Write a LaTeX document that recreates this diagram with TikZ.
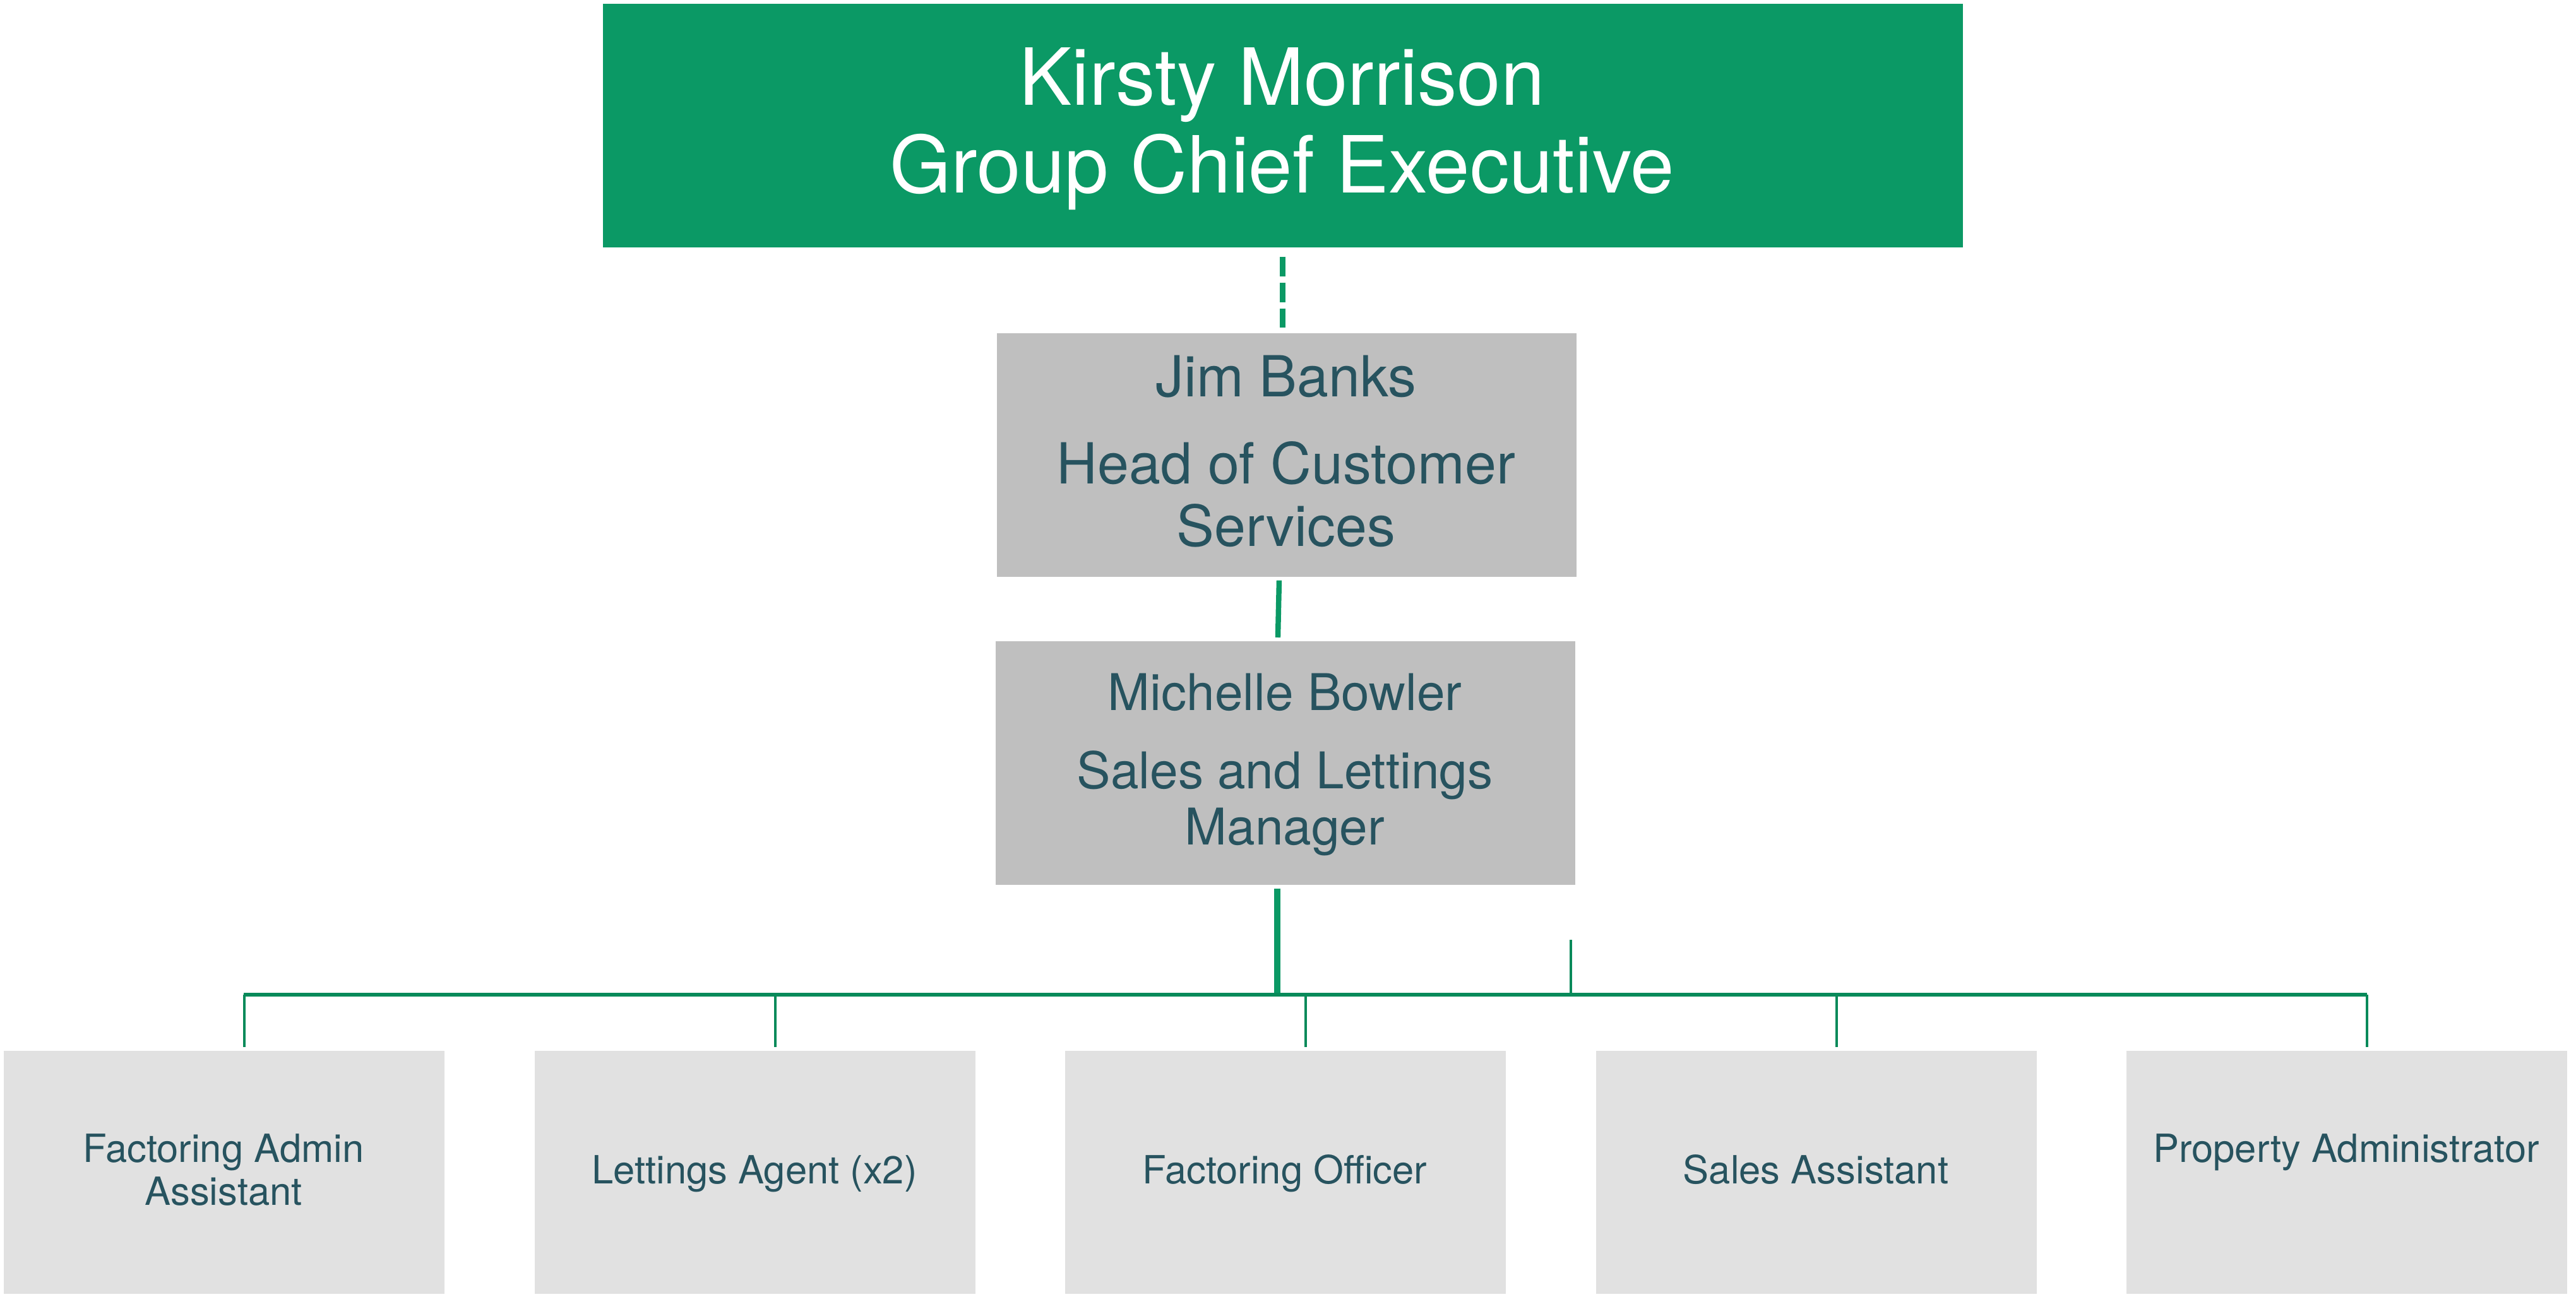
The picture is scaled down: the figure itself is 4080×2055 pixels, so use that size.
\documentclass[tikz,border=0pt]{standalone}
\usepackage{fontspec}
\setmainfont{TeX Gyre Heros}
\usetikzlibrary{calc}
\definecolor{topgreen}{RGB}{11,153,101}
\definecolor{linegreen}{RGB}{8,138,90}
\definecolor{midgray}{RGB}{191,191,191}
\definecolor{lightgray}{RGB}{225,225,225}
\definecolor{textc}{RGB}{39,83,95}
\tikzset{
  topbox/.style={rectangle, fill=topgreen, draw=none, inner sep=0pt, minimum width=21.53cm, minimum height=3.86cm, anchor=north west},
  midbox/.style={rectangle, fill=midgray, draw=none, inner sep=0pt, minimum width=9.18cm, minimum height=3.86cm, anchor=north west},
  lowbox/.style={rectangle, fill=lightgray, draw=none, inner sep=0pt, minimum width=6.98cm, minimum height=3.85cm, anchor=north west},
  toptext/.style={anchor=base, inner sep=0pt, text=white, font=\fontsize{35.5pt}{39.5pt}\selectfont},
  midtextA/.style={anchor=base, inner sep=0pt, text=textc, font=\fontsize{25.5pt}{28pt}\selectfont},
  midtextB/.style={anchor=base, inner sep=0pt, text=textc, font=\fontsize{22.8pt}{25pt}\selectfont},
  lowtext/.style={anchor=base, inner sep=0pt, text=textc, font=\fontsize{17.5pt}{19pt}\selectfont},
  dashlink/.style={draw=topgreen, line width=2.6pt, dash pattern=on 0.31cm off 0.10cm},
  thicklink/.style={draw=topgreen, line width=2.4pt},
  stemlink/.style={draw=topgreen, line width=2.85pt},
  buslink/.style={draw=linegreen, line width=1.7pt},
  droplink/.style={draw=linegreen, line width=1.3pt},
  straylink/.style={draw=linegreen, line width=1.4pt}
}
\begin{document}
\begin{tikzpicture}[x=0.01cm, y=-0.01cm]
\useasboundingbox[fill=white] (0,0) rectangle (4080,2055);

% boxes
\node[topbox] (top) at (954,5) {};
\node[midbox] (jim) at (1578,527) {};
\node[midbox] (mich) at (1576,1015) {};
\node[lowbox] (b1) at (5,1664) {};
\node[lowbox] (b2) at (846,1664) {};
\node[lowbox] (b3) at (1686,1664) {};
\node[lowbox] (b4) at (2527,1664) {};
\node[lowbox] (b5) at (3367,1664) {};

% texts
\node[toptext] (t1) at (2030.5,167) {Kirsty Morrison};
\node[toptext] (t2) at (2030.5,306) {Group Chief Executive};
\node[midtextA] (j1) at (2037,629) {Jim Banks};
\node[midtextA] (j2) at (2037,767) {Head of Customer};
\node[midtextA] (j3) at (2037,866) {Services};
\node[midtextB] (m1) at (2035,1125) {Michelle Bowler};
\node[midtextB] (m2) at (2035,1249) {Sales and Lettings};
\node[midtextB] (m3) at (2035,1338) {Manager};
\node[lowtext] (l1a) at (354,1841.5) {Factoring Admin};
\node[lowtext] (l1b) at (354,1909.5) {Assistant};
\node[lowtext] (l2) at (1195,1875) {Lettings Agent (x2)};
\node[lowtext] (l3) at (2035,1875) {Factoring Officer};
\node[lowtext] (l4) at (2876,1875) {Sales Assistant};
\node[lowtext] (l5) at (3716,1841.5) {Property Administrator};

% connectors
\draw[dashlink, shorten <=0.14cm, shorten >=0.08cm] (top.south) -- (top.south |- jim.north);
\coordinate (jA) at ($(jim.south)+(-12,5)$);
\coordinate (jB) at ($(mich.north)+(-12,-5)$);
\draw[thicklink] (jA) -- (jB);
\coordinate (busL) at (386,1576);
\coordinate (busR) at (3749,1576);
\coordinate (mS) at ($(mich.south)+(-13,5)$);
\draw[stemlink] (mS) -- (mS |- busL);
\draw[buslink] (busL) -- (busR);
\foreach \b in {b1,b2,b3,b4,b5}{
  \coordinate (d\b) at ($(\b.north)+(32,-5)$);
  \draw[droplink] (d\b |- busL) -- (d\b);
}
\coordinate (strayTop) at (2488,1489);
\draw[straylink] (strayTop) -- (strayTop |- busL);
\end{tikzpicture}
\end{document}
